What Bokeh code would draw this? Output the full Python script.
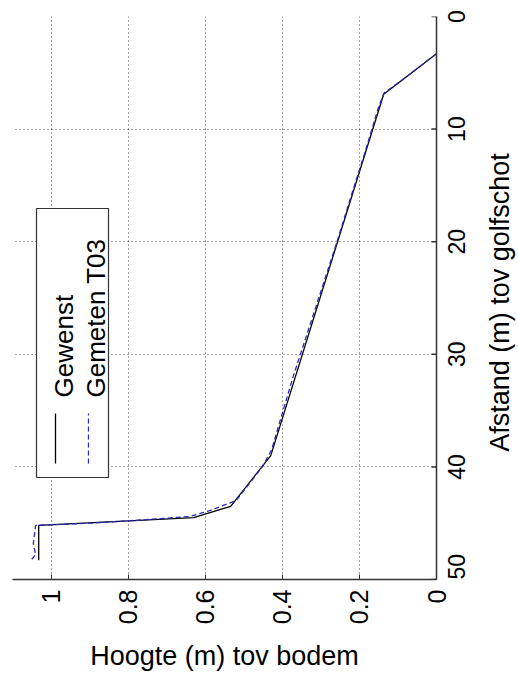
import math
from bokeh.plotting import figure
from bokeh.models import Range1d, FixedTicker, BoxAnnotation, Label, Arrow
from bokeh.embed import file_html
from bokeh.resources import INLINE

# ---- data ----
gewenst_afstand = [3.3, 6.9, 39.0, 43.5, 44.5, 45.2, 48.3]
gewenst_hoogte = [0.0, 0.137, 0.430, 0.534, 0.630, 1.032, 1.032]

gemeten_afstand = [3.3, 5.2, 6.8, 8.0, 12.0, 16.0, 20.0, 24.0, 28.0, 32.0, 35.0, 38.5,
                   40.0, 41.5, 43.0, 43.9, 44.4, 44.7, 45.0, 45.2, 45.8, 46.8, 47.8, 48.2]
gemeten_hoogte = [0.0, 0.072, 0.136, 0.150, 0.185, 0.222, 0.258, 0.296, 0.334, 0.372, 0.398, 0.428,
                  0.452, 0.486, 0.520, 0.590, 0.640, 0.760, 0.900, 1.040, 1.042, 1.046, 1.040, 1.050]

hoogte_ticks = [0, 0.2, 0.4, 0.6, 0.8, 1.0]
hoogte_tick_labels = ["0", "0.2", "0.4", "0.6", "0.8", "1"]
afstand_ticks = [0, 10, 20, 30, 40, 50]
afstand_tick_labels = ["0", "10", "20", "30", "40", "50"]

series_names = ["Gewenst", "Gemeten T03"]
x_label = "Hoogte (m) tov bodem"
y_label = "Afstand (m) tov golfschot"

FONT = "Liberation Sans"
FRAME_W, FRAME_H = 424, 563
x_lo, x_hi = 0, 1.1
y_lo, y_hi = 0, 50
Y_TICK_FONT_PX = 23
TICK_LEN_PX = 5

p = figure(frame_width=FRAME_W, frame_height=FRAME_H,
           x_range=Range1d(x_hi, x_lo), y_range=Range1d(y_hi, y_lo),
           y_axis_location="right", output_backend="svg", toolbar_location=None,
           min_border_left=12, min_border_top=16, min_border_right=80, min_border_bottom=10)
p.outline_line_color = None
p.background_fill_color = "white"
p.border_fill_color = "white"

# grids
p.xgrid.ticker = FixedTicker(ticks=hoogte_ticks)
p.ygrid.ticker = FixedTicker(ticks=afstand_ticks)
for g in (p.xgrid, p.ygrid):
    g.grid_line_color = "#000000"
    g.grid_line_alpha = 0.75
    g.grid_line_dash = "1 3"
    g.grid_line_width = 1

# axes
xa = p.xaxis[0]
ya = p.yaxis[0]
for ax in (xa, ya):
    ax.axis_line_color = "#333333"
    ax.axis_line_width = 1.5
    ax.major_tick_line_color = "#333333"
    ax.major_tick_in = TICK_LEN_PX
    ax.major_tick_out = 0
    ax.minor_tick_line_color = None
    ax.major_label_orientation = math.pi / 2
    ax.major_label_text_font = FONT
    ax.major_label_text_color = "black"

xa.ticker = FixedTicker(ticks=hoogte_ticks)
xa.major_label_overrides = {t: s for t, s in zip(hoogte_ticks, hoogte_tick_labels)}
xa.major_label_text_font_size = "25px"
xa.major_label_standoff = 10
xa.axis_label = x_label
xa.axis_label_text_font = FONT
xa.axis_label_text_font_size = "27px"
xa.axis_label_text_font_style = "normal"
xa.axis_label_text_color = "black"
xa.axis_label_standoff = 14

# Right axis: rotated labels are anchored at their start, so each label is placed
# half its own length further along the axis to end up centred on its tick value.
px_per_unit = FRAME_H / (y_hi - y_lo)
def centred_pos(t, s):
    half = 0.556 * Y_TICK_FONT_PX * len(s) / 2 / px_per_unit
    return round(min(t + half, y_hi), 3)
label_pos = [centred_pos(t, s) for t, s in zip(afstand_ticks, afstand_tick_labels)]
ya.ticker = FixedTicker(ticks=label_pos)
ya.major_label_overrides = {q: s for q, s in zip(label_pos, afstand_tick_labels)}
ya.major_label_text_font_size = f"{Y_TICK_FONT_PX}px"
ya.major_label_standoff = 20
ya.major_tick_line_color = None
# inward tick marks of the right axis at the true tick values
tick_len = TICK_LEN_PX * (x_hi - x_lo) / FRAME_W
p.segment(x0=[x_lo] * len(afstand_ticks), y0=afstand_ticks,
          x1=[x_lo + tick_len] * len(afstand_ticks), y1=afstand_ticks,
          line_color="#333333", line_width=1.5)

# right-hand axis title, reading bottom-to-top, in a side panel
p.add_layout(Label(x=23, y=277, x_units="screen", y_units="screen", text=y_label,
                   angle=math.pi / 2, text_align="center", text_baseline="alphabetic",
                   text_font=FONT, text_font_size="27px", text_color="black"), "right")

# data lines
p.line(gewenst_hoogte, gewenst_afstand, line_color="black", line_width=1.3)
p.line(gemeten_hoogte, gemeten_afstand, line_color="#2b2bb8", line_width=1.3, line_dash="5 3")

# legend (manual, rotated)
p.add_layout(BoxAnnotation(left=24, right=96, top=371, bottom=102,
                           left_units="screen", right_units="screen",
                           top_units="screen", bottom_units="screen",
                           fill_color="white", fill_alpha=1.0,
                           line_color="#333333", line_width=1.2, line_alpha=1.0))
p.add_layout(Arrow(x_start=43, y_start=116, x_end=43, y_end=166,
                   start_units="screen", end_units="screen", end=None,
                   line_color="black", line_width=1.3))
p.add_layout(Arrow(x_start=76, y_start=116, x_end=76, y_end=166,
                   start_units="screen", end_units="screen", end=None,
                   line_color="#2b2bb8", line_width=1.3, line_dash="5 3"))
for xs, name in zip([51, 83], series_names):
    p.add_layout(Label(x=xs, y=182, x_units="screen", y_units="screen", text=name,
                       angle=math.pi / 2, text_align="left", text_baseline="alphabetic",
                       text_font=FONT, text_font_size="26px", text_color="black"))

open("out.html", "w").write(file_html(p, INLINE))
